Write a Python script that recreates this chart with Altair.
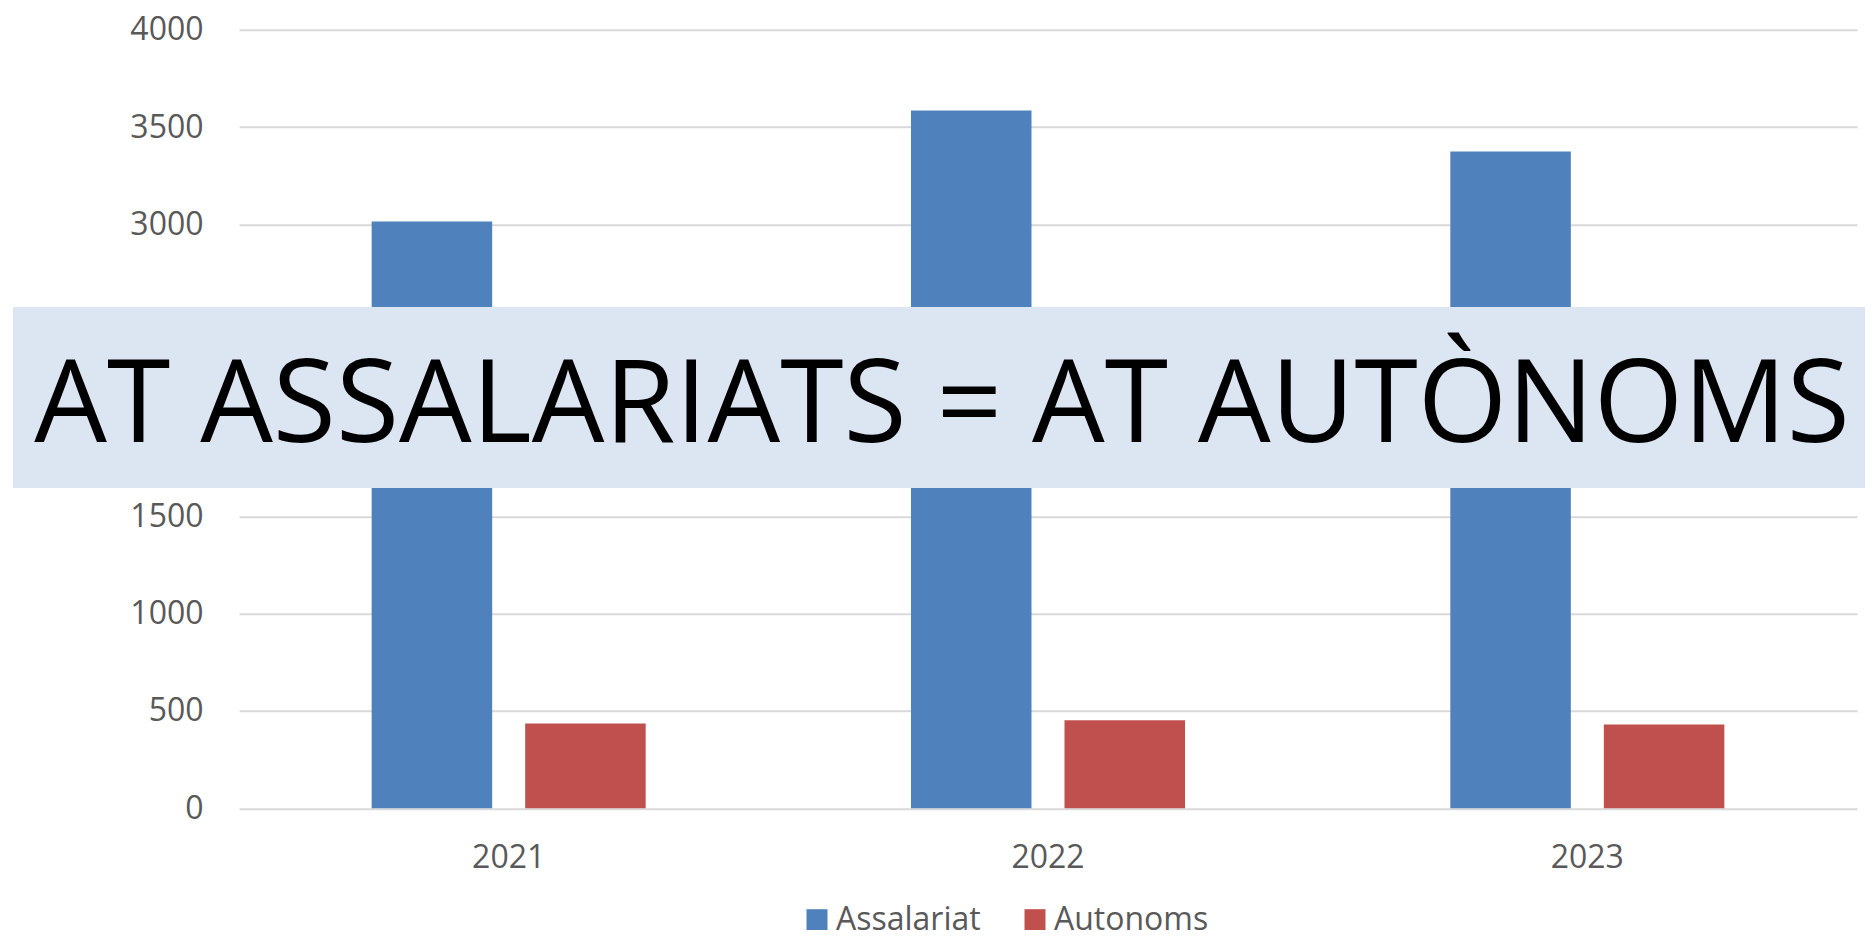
import altair as alt
import pandas as pd

# ---- data ----
years = ["2021", "2022", "2023"]
series = ["Assalariat", "Autonoms"]
assalariat = [3014, 3585, 3374]
autonoms = [435, 452, 431]
colors = ["#4F81BD", "#C0504D"]
y_ticks = [0, 500, 1000, 1500, 2000, 2500, 3000, 3500, 4000]
banner_text = ["AT ASSALARIATS = AT AUTÒNOMS"]

rows = []
for i, yr in enumerate(years):
    rows.append({"year": yr, "series": series[0], "value": assalariat[i]})
    rows.append({"year": yr, "series": series[1], "value": autonoms[i]})
df = pd.DataFrame(rows)
banner_df = pd.DataFrame({"label": banner_text})

FONT = "Open Sans"
GRAY = "#595959"

bars = alt.Chart(df).mark_bar().encode(
    x=alt.X(
        "year:N",
        sort=years,
        scale=alt.Scale(paddingInner=0, paddingOuter=0),
        axis=alt.Axis(
            title=None, labelAngle=0, domain=False, ticks=False, tickSize=0,
            labelPadding=34, grid=False, labelFont=FONT, labelFontSize=32,
            labelColor=GRAY,
        ),
    ),
    xOffset=alt.XOffset(
        "series:N", sort=series,
        scale=alt.Scale(paddingInner=0.215, paddingOuter=0.864),
    ),
    y=alt.Y(
        "value:Q",
        scale=alt.Scale(domain=[0, 4000], nice=False),
        axis=alt.Axis(
            title=None, values=y_ticks, format="d", domain=False, ticks=False,
            tickSize=0, labelPadding=36, grid=True, gridColor="#D9D9D9",
            gridWidth=2, labelFont=FONT, labelFontSize=32, labelColor=GRAY,
        ),
    ),
    color=alt.Color(
        "series:N",
        scale=alt.Scale(domain=series, range=colors),
        legend=alt.Legend(
            title=None, orient="none", legendX=562, legendY=874,
            direction="horizontal", symbolType="square", symbolSize=441,
            symbolStrokeWidth=0, labelFont=FONT, labelFontSize=32,
            labelColor=GRAY, labelOffset=3, columnPadding=38, padding=0,
            labelLimit=300,
        ),
    ),
)

banner = alt.Chart(banner_df).mark_rect(color="#DCE6F2").encode(
    x=alt.value(-226), x2=alt.value(1660),
    y=alt.value(277.3), y2=alt.value(458.3),
)

label = alt.Chart(banner_df).mark_text(
    font=FONT, fontSize=115, color="black", align="center", baseline="alphabetic"
).encode(
    x=alt.value(703), y=alt.value(412.3), text="label:N",
)

chart = alt.layer(bars, banner, label).properties(
    width=1618,
    height=778.6,
    padding={"left": 231, "top": 21.7, "right": 8, "bottom": 122},
    autosize=alt.AutoSizeParams(type="none"),
).configure(font=FONT).configure_view(stroke=None)

chart.save("out.html", embed_options={"renderer": "svg", "actions": False})
